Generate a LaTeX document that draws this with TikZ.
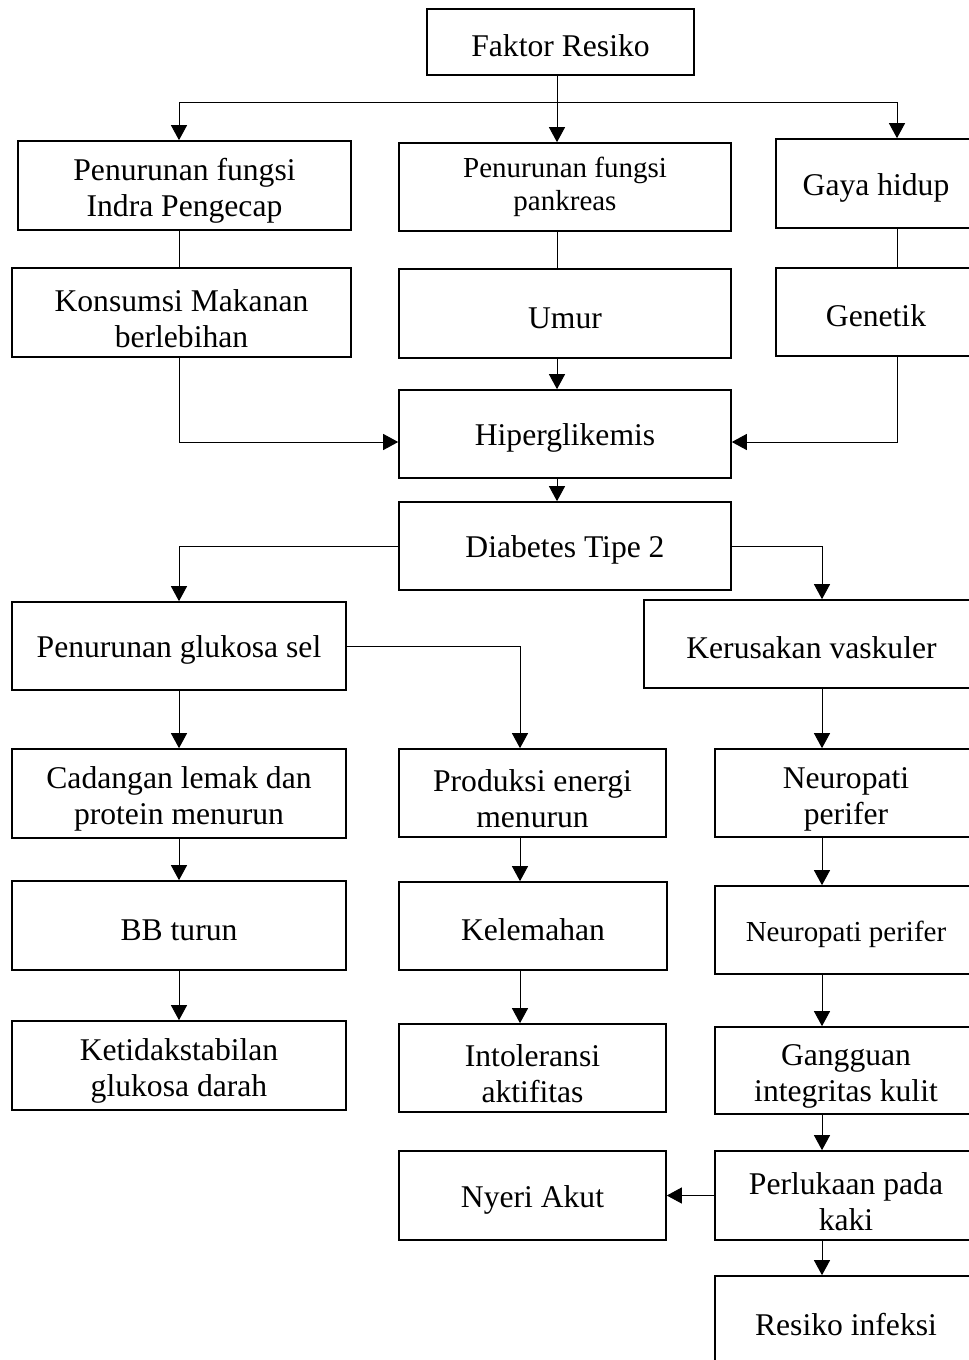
\documentclass[tikz,border=0pt]{standalone}
\usepackage{fontspec}
\setmainfont{Liberation Serif}
\usetikzlibrary{arrows.meta}
\newcommand{\lowtext}{\rule{0pt}{1.06em}}

\begin{document}
\begin{tikzpicture}[x=0.02cm, y=-0.02cm,
    box/.style={draw, line width=0.95pt, align=center, inner sep=2pt, font=\fontsize{18}{20.5}\selectfont,
        execute at begin node={\rule{0pt}{17pt}}},
    smalltext/.style={font=\fontsize{16.5}{19}\selectfont},
    arr/.style={line width=0.55pt, -{Triangle[length=0.3cm, width=0.32cm]}},
    link/.style={line width=0.55pt}]
    \useasboundingbox (0,0) rectangle (968,1360);

    % Columns of the connectors
    \coordinate (colL) at (179,0); \coordinate (colC) at (557,0);
    \coordinate (colM) at (520,0); \coordinate (colR) at (822,0);
    \coordinate (colG) at (897,0); \coordinate (split) at (557,102);

    % Faktor resiko
    \node[box, minimum width=5.34cm, minimum height=1.32cm] (faktor) at (560.5,42) {Faktor Resiko};
    \node[box, minimum width=6.66cm, minimum height=1.78cm] (indra) at (184.5,185.5) {\lowtext Penurunan fungsi\\Indra Pengecap};
    \node[box, smalltext, minimum width=6.64cm, minimum height=1.76cm] (pankreas) at (565,187) {Penurunan fungsi\\pankreas};
    \node[box, minimum width=4cm, minimum height=1.78cm] (gaya) at (876,183.5) {Gaya hidup};
    \node[box, minimum width=6.78cm, minimum height=1.78cm] (konsumsi) at (181.5,312.5) {\lowtext Konsumsi Makanan\\berlebihan};
    \node[box, minimum width=6.64cm, minimum height=1.78cm] (umur) at (565,313.5) {Umur};
    \node[box, minimum width=4cm, minimum height=1.76cm] (genetik) at (876,312) {Genetik};

    % Hiperglikemis and DM
    \node[box, minimum width=6.64cm, minimum height=1.76cm] (hiper) at (565,434) {Hiperglikemis};
    \node[box, minimum width=6.64cm, minimum height=1.76cm] (diabetes) at (565,546) {Diabetes Tipe 2};

    % Left branch
    \node[box, minimum width=6.68cm, minimum height=1.76cm] (glukosa) at (179,646) {Penurunan glukosa sel};
    \node[box, minimum width=6.68cm, minimum height=1.78cm] (cadangan) at (179,793.5) {\lowtext Cadangan lemak dan\\protein menurun};
    \node[box, minimum width=6.68cm, minimum height=1.78cm] (bb) at (179,925.5) {BB turun};
    \node[box, minimum width=6.68cm, minimum height=1.78cm] (ketidak) at (179,1065.5) {\lowtext Ketidakstabilan\\glukosa darah};

    % Middle branch
    \node[box, minimum width=5.34cm, minimum height=1.76cm] (produksi) at (532.5,793) {\lowtext Produksi energi\\menurun};
    \node[box, minimum width=5.36cm, minimum height=1.76cm] (lemah) at (533,926) {Kelemahan};
    \node[box, minimum width=5.34cm, minimum height=1.76cm] (intol) at (532.5,1068) {\lowtext Intoleransi\\aktifitas};
    \node[box, minimum width=5.34cm, minimum height=1.78cm] (nyeri) at (532.5,1195.5) {Nyeri Akut};

    % Right branch
    \node[box, minimum width=6.7cm, minimum height=1.76cm] (vaskuler) at (811.5,644) {Kerusakan vaskuler};
    \node[box, minimum width=5.24cm, minimum height=1.76cm] (neuro1) at (846,793) {\lowtext Neuropati\\perifer};
    \node[box, smalltext, minimum width=5.24cm, minimum height=1.76cm] (neuro2) at (846,930) {Neuropati perifer};
    \node[box, minimum width=5.24cm, minimum height=1.74cm] (gangguan) at (846,1070.5) {\lowtext Gangguan\\integritas kulit};
    \node[box, minimum width=5.24cm, minimum height=1.78cm] (perlukaan) at (846,1195.5) {\lowtext Perlukaan pada\\kaki};
    \node[box, execute at begin node={}, minimum width=5.24cm, minimum height=1.8cm] (resiko) at (846,1321) {Resiko infeksi};

    % Connectors of the factors
    \draw[arr] (faktor.south -| colC) -- (pankreas.north -| colC);
    \draw[arr] (split) -| (indra.north -| colL);
    \draw[arr] (split) -| (gaya.north -| colG);
    \draw[link] (indra.south -| colL) -- (konsumsi.north -| colL);
    \draw[link] (pankreas.south -| colC) -- (umur.north -| colC);
    \draw[link] (gaya.south -| colG) -- (genetik.north -| colG);
    \draw[arr] (umur.south -| colC) -- (hiper.north -| colC);
    \draw[arr] (konsumsi.south -| colL) |- ([yshift=-0.16cm]hiper.west);
    \draw[arr] (genetik.south -| colG) |- ([yshift=-0.16cm]hiper.east);
    \draw[arr] (hiper.south -| colC) -- (diabetes.north -| colC);

    % Connectors of the branches
    \draw[arr] (diabetes.west) -| (glukosa.north);
    \draw[arr] (diabetes.east) -| (vaskuler.north -| colR);
    \draw[arr] (glukosa.east) -| (produksi.north -| colM);
    \draw[arr] (glukosa) -- (cadangan);
    \draw[arr] (cadangan) -- (bb);
    \draw[arr] (bb) -- (ketidak);
    \draw[arr] (produksi.south -| colM) -- (lemah.north -| colM);
    \draw[arr] (lemah.south -| colM) -- (intol.north -| colM);
    \draw[arr] (vaskuler.south -| colR) -- (neuro1.north -| colR);
    \draw[arr] (neuro1.south -| colR) -- (neuro2.north -| colR);
    \draw[arr] (neuro2.south -| colR) -- (gangguan.north -| colR);
    \draw[arr] (gangguan.south -| colR) -- (perlukaan.north -| colR);
    \draw[arr] (perlukaan.south -| colR) -- (resiko.north -| colR);
    \draw[arr] (perlukaan) -- (nyeri);
\end{tikzpicture}
\end{document}
